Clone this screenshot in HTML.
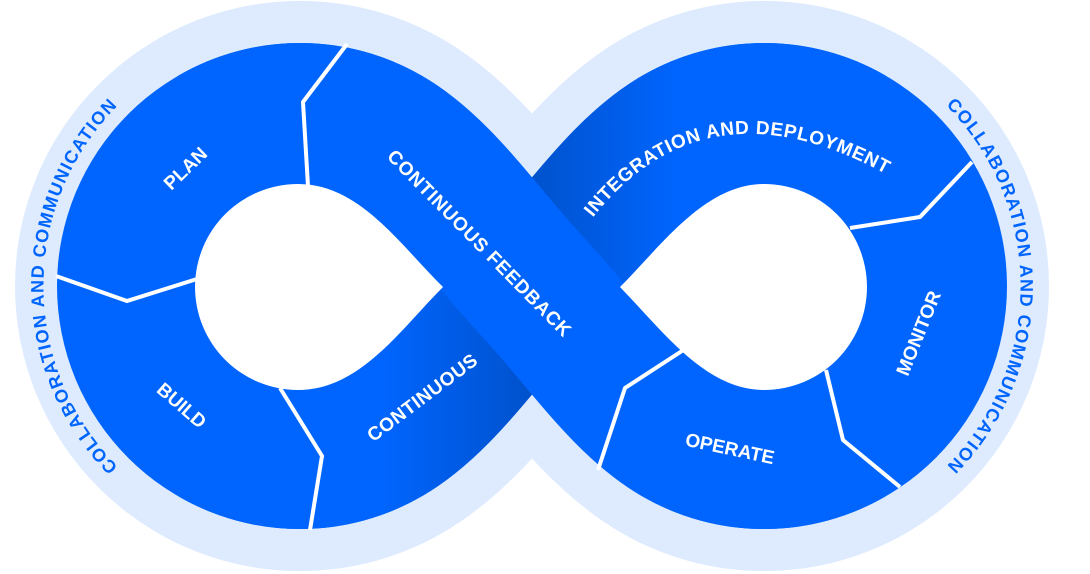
<!DOCTYPE html>
<html><head><meta charset="utf-8"><style>
html,body{margin:0;padding:0;background:#fff;}
svg{display:block;}
text{font-family:"Liberation Sans",sans-serif;font-weight:bold;}
</style></head><body>
<svg width="1090" height="574" viewBox="0 0 1090 574" xmlns="http://www.w3.org/2000/svg">
<defs>
<linearGradient id="g" gradientUnits="userSpaceOnUse" x1="380" y1="0" x2="680" y2="0">
<stop offset="0" stop-color="#0065ff"/>
<stop offset="0.5" stop-color="#0052cc"/>
<stop offset="1" stop-color="#0065ff"/>
</linearGradient>
<path id="lc" d="M172 508 A256 256 0 0 1 172 64"/>
<path id="rc" d="M892 64 A256 256 0 0 1 892 508"/>
<path id="ip" d="M580 235 Q700 62 905 185"/>
</defs>
<!-- light underlay -->
<circle cx="300" cy="286" r="285" fill="#deebff"/>
<circle cx="764" cy="286" r="285" fill="#deebff"/>
<path d="M214 137 A172 172 0 0 1 386 137 C440 168,480 230,532 286 C584 342,624 404,678 435 A172 172 0 0 0 850 435" fill="none" stroke="#deebff" stroke-width="226"/>
<path d="M214 435 A172 172 0 0 0 386 435 C440 404,480 342,532 286 C584 230,624 168,678 137 A172 172 0 0 1 850 137" fill="none" stroke="#deebff" stroke-width="226"/>
<!-- blue -->
<circle cx="300" cy="286" r="243" fill="#0065ff"/>
<circle cx="764" cy="286" r="243" fill="#0065ff"/>
<path d="M214 435 A172 172 0 0 0 386 435 C440 404,480 342,532 286 C584 230,624 168,678 137 A172 172 0 0 1 850 137" fill="none" stroke="url(#g)" stroke-width="142"/>
<path d="M214 137 A172 172 0 0 1 386 137 C440 168,480 230,532 286 C584 342,624 404,678 435 A172 172 0 0 0 850 435" fill="none" stroke="#0065ff" stroke-width="142"/>
<!-- holes -->
<path d="M443 287 C400 245,360 184,298 184 A103 103 0 0 0 298 390 C360 390,400 330,443 287 Z" fill="#fff"/>
<path d="M620 287 C662 245,705 184,764 184 A103 103 0 0 1 764 390 C705 390,662 330,620 287 Z" fill="#fff"/>
<!-- separators -->
<g fill="none" stroke="#fff" stroke-width="4" stroke-linejoin="miter">
<polyline points="347,44 303,102 308,186"/>
<polyline points="56,276 127,301 197,279"/>
<polyline points="280,388 322,456 310,530"/>
<polyline points="972,162 920,217 850,228"/>
<polyline points="826,370 843,440 900,487"/>
<polyline points="685,349 625,388 598,470"/>
</g>
<!-- labels -->
<g fill="#fff" font-size="19">
<text transform="translate(185,168) rotate(-44)" text-anchor="middle" dy="7">PLAN</text>
<text transform="translate(182,405) rotate(41)" text-anchor="middle" dy="7">BUILD</text>
<text transform="translate(422,397) rotate(-37)" text-anchor="middle" dy="7" letter-spacing="0.5">CONTINUOUS</text>
<text transform="translate(480,243) rotate(45.5)" text-anchor="middle" dy="7" letter-spacing="0.8">CONTINUOUS FEEDBACK</text>
<text font-size="19" letter-spacing="0.6"><textPath href="#ip" startOffset="50%" text-anchor="middle">INTEGRATION AND DEPLOYMENT</textPath></text>
<text transform="translate(918,333) rotate(-68)" text-anchor="middle" dy="7">MONITOR</text>
<text transform="translate(730,448) rotate(12)" text-anchor="middle" dy="7">OPERATE</text>
</g>
<g fill="#0065ff" font-size="18" letter-spacing="1.3">
<text><textPath href="#lc" startOffset="50%" text-anchor="middle">COLLABORATION AND COMMUNICATION</textPath></text>
<text><textPath href="#rc" startOffset="50%" text-anchor="middle">COLLABORATION AND COMMUNICATION</textPath></text>
</g>
</svg>
</body></html>
